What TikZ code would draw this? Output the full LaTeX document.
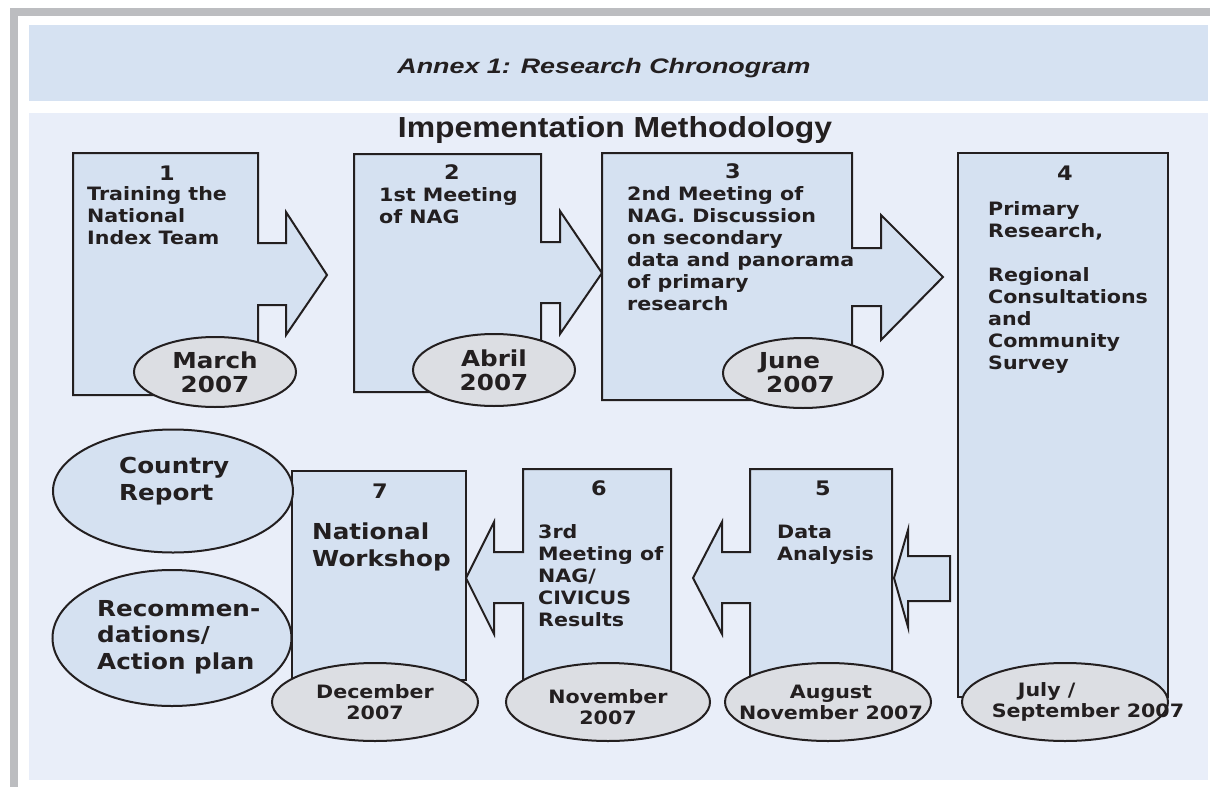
\documentclass[tikz,border=0pt]{standalone}
\usepackage{fontspec}
\setmainfont{DejaVu Sans}
\newfontfamily\boxfont[FakeStretch=1.12]{DejaVu Sans Bold}
\newfontfamily\headfont[FakeStretch=1.28]{Liberation Sans Bold Italic}
\newfontfamily\methfont[FakeStretch=1.1]{Liberation Sans Bold}
\usetikzlibrary{shapes.geometric}
\definecolor{framegray}{HTML}{BCBDC0}
\definecolor{headblue}{HTML}{D6E2F2}
\definecolor{bodyblue}{HTML}{E9EEF9}
\definecolor{boxblue}{HTML}{D5E1F1}
\definecolor{dategray}{HTML}{DCDEE3}
\definecolor{ink}{HTML}{231F20}

\begin{document}
\begin{tikzpicture}[x=1pt, y=-1pt,
  stage/.style={draw=ink, fill=boxblue, line width=2pt},
  dateoval/.style={ellipse, draw=ink, fill=dategray, line width=2pt, inner sep=0pt},
  outoval/.style={ellipse, draw=ink, fill=boxblue, line width=2pt, inner sep=0pt},
  stepnum/.style={anchor=base, inner sep=0pt, text=ink, font=\boxfont\fontsize{20}{24}\selectfont},
  desc/.style={anchor=base west, align=left, inner sep=0pt, text=ink, font=\boxfont\fontsize{18.4}{22}\selectfont},
  bigdesc/.style={desc, font=\boxfont\fontsize{22}{26.5}\selectfont},
  datetop/.style={align=center, inner sep=0pt, text=ink, font=\boxfont\fontsize{22}{24}\selectfont},
  datebot/.style={align=center, inner sep=0pt, text=ink, font=\boxfont\fontsize{18.4}{21}\selectfont}]

% page and frame
\fill[white] (0,0) rectangle (1210,787);
\fill[framegray] (10,8) rectangle (1210,16);
\fill[framegray] (10,8) rectangle (18,787);
\fill[headblue] (29,25) rectangle (1208,101);
\fill[bodyblue] (29,113) rectangle (1208,780);

\node[anchor=base, inner sep=0pt, text=ink, font=\headfont\fontsize{21}{24}\selectfont] (title) at (604,73) {Annex 1: Research Chronogram};
\node[anchor=base, inner sep=0pt, text=ink, font=\methfont\fontsize{29}{32}\selectfont] (method) at (615,137) {Impementation Methodology};

% top row
\draw[stage] (73,153) -- (258,153) -- (258,243) -- (286,243) -- (286,212) -- (327,275) -- (286,335) -- (286,305) -- (258,305) -- (258,395) -- (73,395) -- cycle;
\draw[stage] (354,154) -- (541,154) -- (541,242) -- (560,242) -- (560,211) -- (602,273) -- (560,334) -- (560,303) -- (541,303) -- (541,392) -- (354,392) -- cycle;
\draw[stage] (602,153) -- (852,153) -- (852,248) -- (881,248) -- (881,215) -- (943,277) -- (881,340) -- (881,306) -- (852,306) -- (852,400) -- (602,400) -- cycle;
\draw[stage] (958,153) rectangle (1168,697);

% bottom row
\draw[stage] (950,556) -- (908,556) -- (908,530) -- (894,578) -- (908,627) -- (908,601) -- (950,601) -- cycle;
\draw[stage] (750,469) -- (892,469) -- (892,680) -- (750,680) -- (750,603) -- (722,603) -- (722,634) -- (693,578) -- (722,522) -- (722,552) -- (750,552) -- cycle;
\draw[stage] (523,469) -- (671,469) -- (671,680) -- (523,680) -- (523,603) -- (494,603) -- (494,634) -- (466,578) -- (494,522) -- (494,552) -- (523,552) -- cycle;
\draw[stage, line width=1.5pt] (292,471) rectangle (466,680);

% step numbers and texts (base = last line)
\node[stepnum] (n1) at (167,180) {1};
\node[stepnum] (n2) at (452,179) {2};
\node[stepnum] (n3) at (733,178) {3};
\node[stepnum] (n4) at (1065,180) {4};
\node[stepnum] (n5) at (823,495) {5};
\node[stepnum] (n6) at (599,495) {6};
\node[stepnum] (n7) at (380,498) {7};

\node[desc] (t1) at (87,244) {Training the\\National\\Index Team};
\node[desc] (t2) at (379,223) {1st Meeting\\of NAG};
\node[desc] (t3) at (627,310) {2nd Meeting of\\NAG. Discussion\\on secondary\\data and panorama\\of primary\\research};
\node[desc] (t4) at (988,369) {Primary\\Research,\\[22pt]Regional\\Consultations\\and\\Community\\Survey};
\node[desc] (t5) at (777,560) {Data\\Analysis};
\node[desc] (t6) at (538,626) {3rd\\Meeting of\\NAG/\\CIVICUS\\Results};
\node[bigdesc] (t7) at (312,566) {National\\Workshop};

% outputs
\node[outoval, minimum width=240pt, minimum height=123pt] (report) at (173,491) {};
\node[outoval, minimum width=239pt, minimum height=136pt] (recom) at (172,638) {};
\node[bigdesc] (treport) at (119,500) {Country\\Report};
\node[bigdesc] (trecom) at (97,669) {Recommen-\\dations/\\Action plan};

% dates
\node[dateoval, minimum width=162pt, minimum height=70pt] (d1) at (215,372) {};
\node[dateoval, minimum width=162pt, minimum height=72pt] (d2) at (494,370) {};
\node[dateoval, minimum width=160pt, minimum height=70pt] (d3) at (803,373) {};
\node[dateoval, minimum width=206pt, minimum height=78pt] (d4) at (1065,702) {};
\node[dateoval, minimum width=206pt, minimum height=78pt] (d5) at (828,702) {};
\node[dateoval, minimum width=204pt, minimum height=78pt] (d6) at (608,702) {};
\node[dateoval, minimum width=206pt, minimum height=78pt] (d7) at (375,702) {};

\node[datetop] (m1) at (d1) {March\\2007};
\node[datetop] (m2) at (d2) {Abril\\2007};
\node[datetop, xshift=-8pt] (m3) at (d3) {June\hspace*{11pt}\\\hspace*{11pt}2007};
\node[datebot, align=left, xshift=23pt] (m4) at (d4) {\hspace*{26pt}July /\\September 2007};
\node[datebot, xshift=3pt] (m5) at (d5) {August\\November 2007};
\node[datebot, yshift=-5pt] (m6) at (d6) {November\\2007};
\node[datebot] (m7) at (d7) {December\\2007};
\end{tikzpicture}
\end{document}
